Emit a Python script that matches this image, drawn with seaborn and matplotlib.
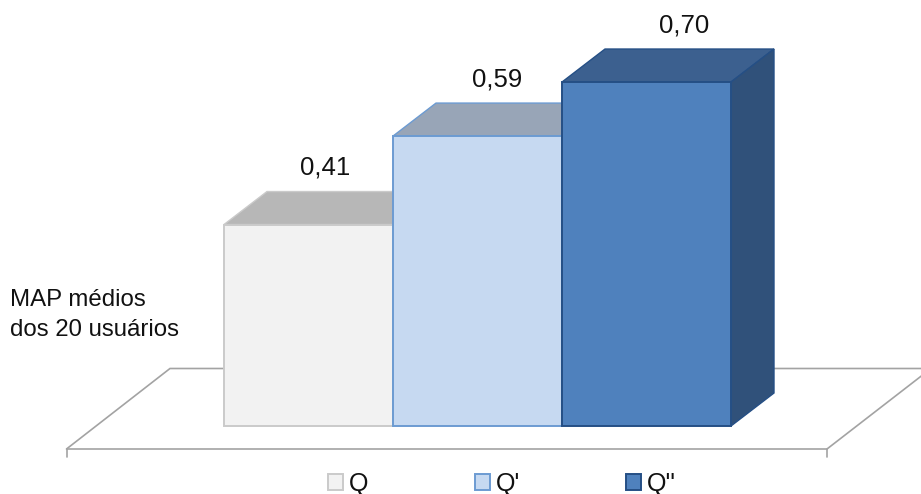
import matplotlib
matplotlib.use("Agg")
import matplotlib.pyplot as plt
from matplotlib.patches import Patch, Polygon
import pandas as pd
import seaborn as sns

# Mean MAP per query variant
queries = ["Q", "Q'", "Q''"]
map_means = [0.41, 0.59, 0.70]

front_colors = ["#F2F2F2", "#C6D9F1", "#4F81BD"]
top_colors = ["#B7B7B7", "#98A5B7", "#3C608F"]
side_colors = ["#A8A8A8", "#8A99AE", "#30517A"]
edge_colors = ["#CACACA", "#6C9BD2", "#254F85"]

sns.set_theme(style="white")
plt.rcParams["font.family"] = ["Liberation Sans", "DejaVu Sans"]

W, H = 921, 494
fig = plt.figure(figsize=(W / 100, H / 100), dpi=100, facecolor="white")
ax = fig.add_axes([0, 0, 1, 1])

# Scale: one bar is 169 px wide, one unit of MAP is 491.4 px tall
PX_X, PX_Y = 169.0, 491.4
BAR0_LEFT, BASE_Y = 224.0, 426.0


def px(x, y):
    """Figure pixel (origin top-left) to data coordinates."""
    return (x - BAR0_LEFT) / PX_X - 0.5, (BASE_Y - y) / PX_Y


df = pd.DataFrame({"query": queries, "map": map_means})
sns.barplot(data=df, x="query", y="map", hue="query", palette=front_colors,
            width=1.0, legend=False, ax=ax, zorder=3, saturation=1)
for bar, edge in zip(ax.patches, edge_colors):
    bar.set_edgecolor(edge)
    bar.set_linewidth(1.4)

ax.set_xlim(px(0, 0)[0], px(W, 0)[0])
ax.set_ylim(px(0, H)[1], px(0, 0)[1])
ax.set_axis_off()

# Floor of the pseudo-3D plot area
floor_color = "#A3A3A3"
floor_paths = [
    [(66.5, 457), (66.5, 449), (827, 449), (827, 457)],
    [(66.5, 449), (170, 368.5), (931, 368.5), (827, 449)],
]
for path in floor_paths:
    xs, ys = zip(*[px(*p) for p in path])
    ax.plot(xs, ys, color=floor_color, lw=1.2, zorder=1,
            solid_joinstyle="miter")

# Extruded top and side faces of each bar
DEPTH_X, DEPTH_Y = 43 / PX_X, 33 / PX_Y
for i, value in enumerate(map_means):
    l, r = i - 0.5, i + 0.5
    top = [(l, value), (r, value), (r + DEPTH_X, value + DEPTH_Y),
           (l + DEPTH_X, value + DEPTH_Y)]
    side = [(r, 0), (r + DEPTH_X, DEPTH_Y), (r + DEPTH_X, value + DEPTH_Y),
            (r, value)]
    ax.add_patch(Polygon(top, closed=True, facecolor=top_colors[i],
                         edgecolor=edge_colors[i], lw=1.0, zorder=2))
    ax.add_patch(Polygon(side, closed=True, facecolor=side_colors[i],
                         edgecolor=edge_colors[i], lw=1.0, zorder=2))

# Value labels with decimal comma
label_nudge_x = [17, 20, 38]
for i, value in enumerate(map_means):
    ax.annotate(f"{value:.2f}".replace(".", ","), xy=(i, value),
                xytext=(label_nudge_x[i], 57), textcoords="offset pixels",
                ha="center", va="center", fontsize=18.5, color="#111111",
                zorder=5)

ax.text(*px(10, 315), "MAP médios\ndos 20 usuários", ha="left", va="center",
        fontsize=17.3, color="#111111", linespacing=1.42)

handles = [Patch(facecolor=f, edgecolor=e, lw=1.4)
           for f, e in zip(front_colors, edge_colors)]
fig.legend(handles=handles, labels=queries, ncol=3, frameon=False,
           loc="center left", bbox_to_anchor=(328 / W, 1 - 483.5 / H),
           borderaxespad=0, borderpad=0, fontsize=18, labelcolor="#111111",
           handlelength=0.6, handleheight=0.6, handletextpad=0.24,
           columnspacing=4.25)

fig.savefig("out.png", dpi=100, facecolor="white")
